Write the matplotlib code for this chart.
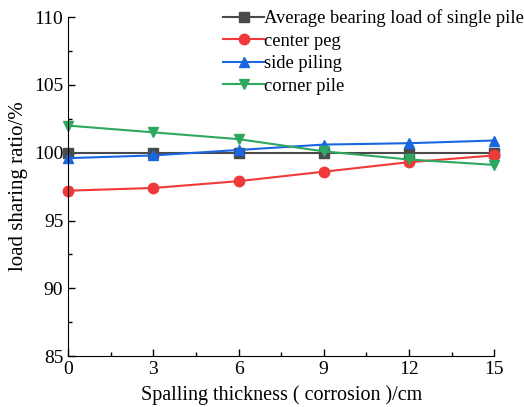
import matplotlib
matplotlib.use("Agg")
import matplotlib.pyplot as plt
from matplotlib.ticker import MultipleLocator

plt.rcParams["font.family"] = ["Liberation Serif", "DejaVu Serif"]
plt.rcParams["mathtext.fontset"] = "stix"

thickness = [0, 3, 6, 9, 12, 15]
average_load = [100.0, 100.0, 100.0, 100.0, 100.0, 100.0]
center_peg = [97.2, 97.4, 97.9, 98.6, 99.3, 99.8]
side_piling = [99.6, 99.8, 100.2, 100.6, 100.7, 100.9]
corner_pile = [102.0, 101.5, 101.0, 100.1, 99.5, 99.1]

series = [
    ("Average bearing load of single pile", average_load, "#4a4a4a", "s"),
    ("center peg", center_peg, "#f03a3a", "o"),
    ("side piling", side_piling, "#1a66e0", "^"),
    ("corner pile", corner_pile, "#2ea860", "v"),
]

fig = plt.figure(figsize=(5.24, 4.07), dpi=100)
ax = fig.add_axes([0.130, 0.125, 0.813, 0.833])

for lab, vals, c, m in series:
    ax.plot(thickness, vals, color=c, marker=m, ms=7.5, lw=1.5, label=lab, clip_on=False)

ax.set_xlim(0, 15)
ax.set_ylim(85, 110)
ax.xaxis.set_major_locator(MultipleLocator(3))
ax.xaxis.set_minor_locator(MultipleLocator(1.5))
ax.yaxis.set_major_locator(MultipleLocator(5))
ax.yaxis.set_minor_locator(MultipleLocator(2.5))
ax.tick_params(which="both", direction="in", labelsize=14, width=1)
ax.tick_params(which="major", length=5)
ax.tick_params(which="minor", length=3)
ax.spines["top"].set_visible(False)
ax.spines["right"].set_visible(False)

ax.set_xlabel("Spalling thickness ( corrosion )/cm", fontsize=14.5, labelpad=5)
ax.set_ylabel("load sharing ratio/%", fontsize=15, labelpad=4)

ax.legend(loc="upper right", bbox_to_anchor=(1.087, 1.045), frameon=False, fontsize=13.3,
          handlelength=2.2, handletextpad=0.0, labelspacing=0.3, borderaxespad=0)

fig.savefig("out.png", dpi=100)
